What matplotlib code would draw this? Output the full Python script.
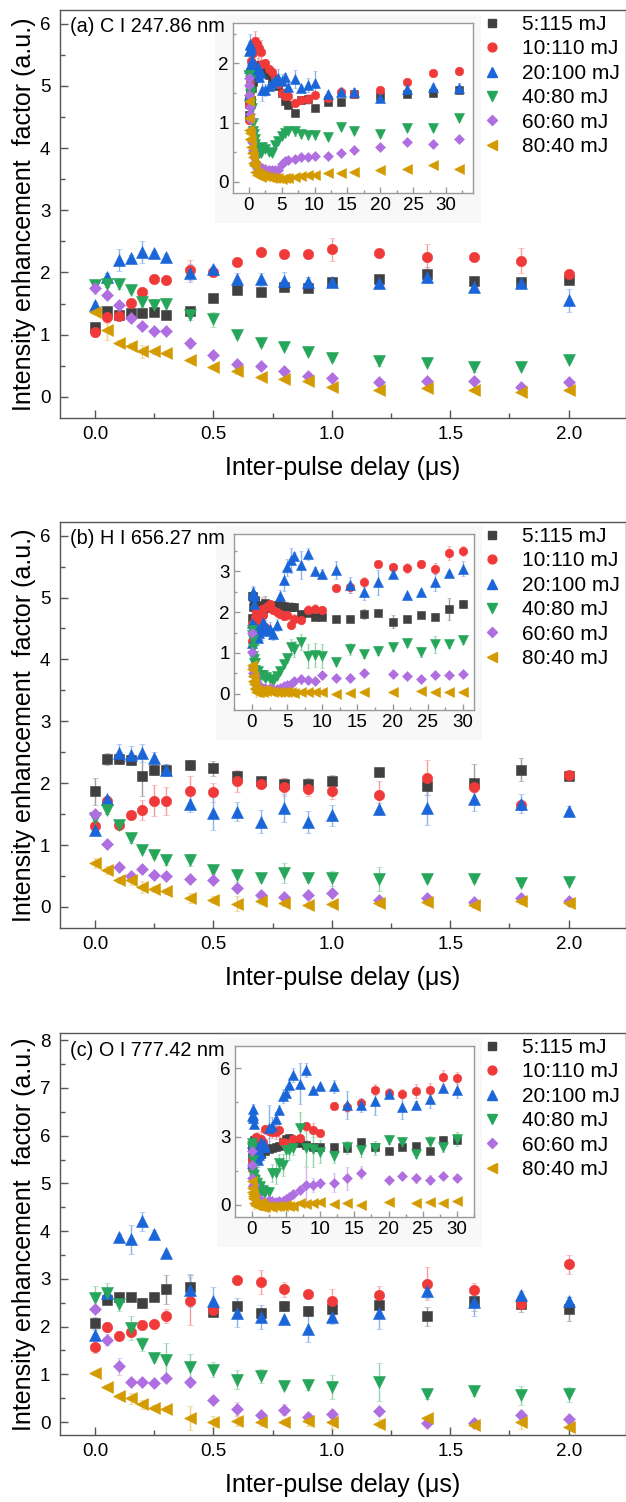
import numpy as np
import matplotlib
matplotlib.use("Agg")
import matplotlib.pyplot as plt
from matplotlib.colors import to_rgb
from matplotlib.lines import Line2D
from matplotlib.patches import Rectangle
from matplotlib.ticker import MultipleLocator, FormatStrFormatter

plt.rcParams['font.family'] = ['Liberation Sans', 'DejaVu Sans']

nan = np.nan

LABELS = ['5:115 mJ', '10:110 mJ', '20:100 mJ', '40:80 mJ', '60:60 mJ', '80:40 mJ']
COLORS = ['#404040', '#f03a3a', '#1a66d9', '#26a65b', '#b06fe0', '#d49b00']
MARKERS = ['s', 'o', '^', 'v', 'D', '<']
MSIZES = [6.5, 7.5, 8, 8, 6.3, 8]

# inter-pulse delay (us)
DELAY = [0, 0.05, 0.1, 0.15, 0.2, 0.25, 0.3, 0.4, 0.5, 0.6, 0.7, 0.8, 0.9, 1.0, 1.2, 1.4, 1.6, 1.8, 2.0]
DELAY_LONG_A = [2.5, 3, 3.5, 4, 4.5, 5, 5.5, 6, 7, 8, 9, 10, 12, 14, 16, 20, 24, 28, 32]
DELAY_LONG = [2.5, 3, 3.5, 4, 4.5, 5, 5.5, 6, 7, 8, 9, 10, 12, 14, 16, 18, 20, 22, 24, 26, 28, 30]

# ---- (a) C I 247.86 nm
A_BLK = [1.13, 1.38, 1.31, 1.35, 1.35, 1.37, 1.31, 1.38, 1.59, 1.72, 1.69, 1.77, 1.75, 1.85, 1.89, 1.97, 1.86, 1.84, 1.88]
A_RED = [1.04, 1.29, 1.30, 1.51, 1.68, 1.89, 1.88, 2.04, 2.01, 2.17, 2.33, 2.29, 2.29, 2.37, 2.32, 2.25, 2.25, 2.19, 1.98]
A_BLU = [1.47, 1.92, 2.20, 2.23, 2.33, 2.31, 2.25, 1.99, 2.05, 1.89, 1.89, 1.87, 1.84, 1.84, 1.83, 1.93, 1.77, 1.83, 1.55]
A_GRN = [1.80, 1.81, 1.81, 1.72, 1.53, 1.48, 1.49, 1.31, 1.25, 0.99, 0.86, 0.80, 0.72, 0.63, 0.57, 0.54, 0.48, 0.48, 0.59]
A_PUR = [1.75, 1.63, 1.47, 1.27, 1.14, 1.06, 1.06, 0.86, 0.67, 0.53, 0.50, 0.41, 0.33, 0.30, 0.24, 0.25, 0.26, 0.16, 0.24]
A_GLD = [1.37, 1.07, 0.87, 0.82, 0.73, 0.73, 0.70, 0.59, 0.48, 0.42, 0.32, 0.28, 0.26, 0.16, 0.11, 0.14, 0.11, 0.08, 0.11]
A_BLK_E = [0.06, 0.05, 0.05, 0.05, 0.04, 0.05, 0.06, 0.05, 0.07, 0.06, 0.05, 0.06, 0.07, 0.04, 0.07, 0.12, 0.04, 0.06, 0.05]
A_RED_E = [0.07, 0.10, 0.06, 0.04, 0.06, 0.04, 0.04, 0.16, 0.06, 0.07, 0.04, 0.05, 0.05, 0.18, 0.06, 0.20, 0.04, 0.20, 0.06]
A_BLU_E = [0.05, 0.07, 0.18, 0.05, 0.17, 0.04, 0.04, 0.14, 0.06, 0.10, 0.10, 0.13, 0.08, 0.04, 0.10, 0.10, 0.06, 0.06, 0.18]
A_GRN_E = [0.08, 0.05, 0.08, 0.04, 0.08, 0.10, 0.10, 0.08, 0.12, 0.04, 0.04, 0.03, 0.03, 0.05, 0.08, 0.03, 0.08, 0.04, 0.03]
A_PUR_E = [0.10, 0.04, 0.04, 0.05, 0.04, 0.04, 0.03, 0.07, 0.04, 0.04, 0.04, 0.04, 0.04, 0.03, 0.05, 0.03, 0.04, 0.03, 0.03]
A_GLD_E = [0.04, 0.15, 0.04, 0.04, 0.10, 0.04, 0.03, 0.03, 0.03, 0.05, 0.03, 0.03, 0.03, 0.03, 0.03, 0.03, 0.03, 0.03, 0.03]
# inset, delays beyond 2 us
A_BLK_L = [1.85, 1.80, 1.72, 1.70, 1.62, 1.50, 1.36, 1.30, 1.16, 1.38, 1.40, 1.25, 1.34, 1.34, 1.48, 1.44, 1.48, 1.49, 1.55]
A_RED_L = [2.00, 1.90, 1.86, 1.75, 1.65, 1.50, 1.45, 1.44, 1.33, 1.38, 1.40, 1.47, 1.41, 1.52, 1.48, 1.55, 1.68, 1.83, 1.87]
A_BLU_L = [1.55, 1.62, 1.66, 1.72, 1.75, 1.70, 1.76, 1.60, 1.74, 1.58, 1.63, 1.67, 1.48, 1.52, 1.52, 1.42, 1.56, 1.60, 1.59]
A_GRN_L = [0.55, 0.50, 0.48, 0.62, 0.68, 0.78, 0.82, 0.85, 0.85, 0.80, 0.79, 0.79, 0.76, 0.93, 0.86, 0.80, 0.91, 0.90, 1.07]
A_PUR_L = [0.22, 0.20, 0.19, 0.20, 0.20, 0.30, 0.35, 0.37, 0.38, 0.42, 0.42, 0.43, 0.44, 0.48, 0.53, 0.59, 0.67, 0.64, 0.73]
A_GLD_L = [0.10, 0.08, 0.07, 0.06, 0.06, 0.05, 0.06, 0.07, 0.08, 0.09, 0.11, 0.12, 0.14, 0.15, 0.17, 0.20, 0.22, 0.29, 0.22]
A_BLK_LE = [0.06, 0.05, 0.05, 0.06, 0.05, 0.06, 0.05, 0.06, 0.04, 0.06, 0.06, 0.04, 0.05, 0.06, 0.05, 0.04, 0.05, 0.04, 0.06]
A_RED_LE = [0.08, 0.06, 0.06, 0.06, 0.05, 0.06, 0.08, 0.06, 0.04, 0.06, 0.08, 0.05, 0.05, 0.08, 0.05, 0.04, 0.05, 0.04, 0.06]
A_BLU_LE = [0.10, 0.08, 0.10, 0.12, 0.15, 0.12, 0.08, 0.06, 0.15, 0.06, 0.12, 0.20, 0.06, 0.06, 0.06, 0.04, 0.06, 0.05, 0.08]
A_GRN_LE = [0.05, 0.05, 0.05, 0.05, 0.05, 0.06, 0.06, 0.05, 0.08, 0.06, 0.06, 0.06, 0.06, 0.05, 0.05, 0.04, 0.05, 0.04, 0.05]
A_PUR_LE = [0.03, 0.03, 0.03, 0.03, 0.03, 0.04, 0.04, 0.04, 0.04, 0.05, 0.05, 0.05, 0.04, 0.04, 0.05, 0.04, 0.04, 0.04, 0.04]
A_GLD_LE = [0.03, 0.03, 0.03, 0.02, 0.02, 0.02, 0.02, 0.02, 0.02, 0.02, 0.03, 0.03, 0.03, 0.03, 0.03, 0.03, 0.03, 0.03, 0.03]

# ---- (b) H I 656.27 nm
B_BLK = [1.87, 2.39, 2.39, 2.37, 2.12, 2.22, 2.21, 2.29, 2.24, 2.12, 2.03, 1.98, 1.98, 2.04, 2.18, 1.96, 2.01, 2.22, 2.11]
B_RED = [1.30, 1.71, 1.33, 1.48, 1.57, 1.72, 1.71, 1.87, 1.85, 2.04, 1.98, 1.94, 1.90, 1.87, 1.81, 2.09, 1.94, 1.64, 2.14]
B_BLU = [1.25, 1.74, 2.48, 2.45, 2.49, 2.41, 2.21, 1.67, 1.52, 1.54, 1.38, 1.60, 1.37, 1.48, 1.58, 1.60, 1.75, 1.67, 1.55]
B_GRN = [1.43, 1.56, 1.33, 1.11, 0.92, 0.84, 0.76, 0.76, 0.59, 0.51, 0.46, 0.55, 0.46, 0.46, 0.45, 0.45, 0.45, 0.38, 0.41]
B_PUR = [1.50, 1.02, 0.65, 0.50, 0.61, 0.52, 0.50, 0.45, 0.44, 0.30, 0.20, 0.16, 0.20, 0.22, 0.12, 0.14, 0.08, 0.15, 0.10]
B_GLD = [0.71, 0.60, 0.44, 0.44, 0.32, 0.29, 0.25, 0.15, 0.12, 0.05, 0.10, 0.07, 0.03, 0.05, 0.07, 0.08, 0.03, 0.10, 0.07]
B_BLK_E = [0.22, 0.10, 0.08, 0.07, 0.33, 0.08, 0.10, 0.08, 0.12, 0.08, 0.06, 0.10, 0.10, 0.10, 0.05, 0.15, 0.30, 0.18, 0.05]
B_RED_E = [0.06, 0.06, 0.05, 0.04, 0.16, 0.25, 0.23, 0.25, 0.15, 0.18, 0.06, 0.15, 0.10, 0.12, 0.22, 0.28, 0.08, 0.08, 0.04]
B_BLU_E = [0.05, 0.06, 0.15, 0.15, 0.15, 0.10, 0.10, 0.14, 0.28, 0.15, 0.18, 0.23, 0.18, 0.17, 0.10, 0.28, 0.20, 0.15, 0.08]
B_GRN_E = [0.08, 0.05, 0.05, 0.07, 0.04, 0.05, 0.08, 0.10, 0.06, 0.10, 0.06, 0.16, 0.06, 0.12, 0.20, 0.05, 0.05, 0.04, 0.03]
B_PUR_E = [0.05, 0.05, 0.04, 0.04, 0.04, 0.04, 0.04, 0.05, 0.04, 0.04, 0.05, 0.04, 0.04, 0.05, 0.04, 0.04, 0.04, 0.05, 0.04]
B_GLD_E = [0.08, 0.06, 0.05, 0.08, 0.10, 0.05, 0.04, 0.08, 0.05, 0.12, 0.05, 0.05, 0.05, 0.05, 0.05, 0.05, 0.05, 0.05, 0.05]
B_BLK_L = [2.14, 2.15, 2.17, 2.17, 2.15, 2.14, 2.14, 2.12, 1.95, 1.98, 1.89, 1.89, 1.83, 1.83, 1.95, 1.98, 1.77, 1.83, 1.93, 1.89, 2.08, 2.20]
B_RED_L = [2.20, 2.05, 2.00, 1.95, 1.90, 1.92, 1.68, 1.83, 1.80, 2.06, 2.08, 2.06, 2.60, 2.62, 2.74, 3.18, 3.10, 3.08, 3.18, 3.07, 3.45, 3.50]
B_BLU_L = [1.60, 1.47, 1.68, 2.39, 2.78, 3.10, 3.27, 3.37, 3.16, 3.42, 3.00, 2.93, 3.03, 2.67, 2.50, 2.73, 2.93, 2.42, 2.50, 2.73, 2.96, 3.07]
B_GRN_L = [0.35, 0.30, 0.43, 0.56, 0.73, 0.87, 1.14, 1.10, 1.27, 0.93, 0.95, 0.93, 0.77, 1.10, 0.98, 1.06, 1.14, 1.25, 1.03, 1.21, 1.21, 1.31]
B_PUR_L = [0.15, 0.12, 0.12, 0.15, 0.18, 0.22, 0.25, 0.30, 0.35, 0.33, 0.31, 0.45, 0.39, 0.39, 0.52, nan, 0.48, 0.43, 0.35, 0.46, 0.46, 0.48]
B_GLD_L = [0.07, 0.05, 0.05, 0.04, 0.03, 0.03, 0.03, 0.02, 0.04, 0.05, 0.05, 0.03, 0.00, 0.02, 0.05, nan, 0.03, nan, 0.07, 0.04, 0.04, 0.05]
B_BLK_LE = [0.10, 0.10, 0.12, 0.10, 0.10, 0.08, 0.10, 0.10, 0.10, 0.08, 0.08, 0.08, 0.06, 0.06, 0.12, 0.05, 0.15, 0.08, 0.06, 0.08, 0.28, 0.10]
B_RED_LE = [0.10, 0.10, 0.12, 0.10, 0.10, 0.10, 0.10, 0.12, 0.10, 0.12, 0.12, 0.10, 0.06, 0.15, 0.12, 0.06, 0.08, 0.12, 0.10, 0.14, 0.18, 0.12]
B_BLU_LE = [0.15, 0.15, 0.15, 0.15, 0.25, 0.20, 0.30, 0.10, 0.35, 0.15, 0.10, 0.12, 0.22, 0.20, 0.20, 0.30, 0.10, 0.06, 0.08, 0.20, 0.05, 0.18]
B_GRN_LE = [0.05, 0.05, 0.06, 0.08, 0.10, 0.12, 0.20, 0.20, 0.20, 0.30, 0.30, 0.30, 0.10, 0.15, 0.10, 0.10, 0.08, 0.10, 0.12, 0.20, 0.08, 0.10]
B_PUR_LE = [0.04, 0.04, 0.04, 0.04, 0.05, 0.05, 0.06, 0.06, 0.10, 0.08, 0.08, 0.08, 0.08, 0.10, 0.08, 0.04, 0.04, 0.04, 0.05, 0.04, 0.04, 0.04]
B_GLD_LE = [0.04, 0.04, 0.04, 0.03, 0.03, 0.03, 0.03, 0.03, 0.03, 0.03, 0.03, 0.03, 0.03, 0.03, 0.03, 0.03, 0.03, 0.03, 0.03, 0.03, 0.03, 0.03]

# ---- (c) O I 777.42 nm
C_BLK = [2.08, 2.55, 2.61, 2.62, 2.50, 2.62, 2.78, 2.83, 2.30, 2.43, 2.29, 2.43, 2.33, 2.36, 2.46, 2.22, 2.53, 2.47, 2.36]
C_RED = [1.57, 1.99, 1.81, 1.89, 2.03, 2.06, 2.22, 2.54, 2.34, 2.98, 2.93, 2.78, 2.69, 2.53, 2.66, 2.90, 2.76, 2.48, 3.31]
C_BLU = [1.83, 2.71, 3.88, 3.83, 4.21, 3.93, 3.55, 2.76, 2.53, 2.29, 2.20, 2.15, 1.96, 2.20, 2.29, 2.74, 2.52, 2.67, 2.53]
C_GRN = [2.60, 2.71, 2.48, 1.97, 1.64, 1.34, 1.31, 1.15, 1.10, 0.89, 0.96, 0.76, 0.77, 0.73, 0.84, 0.58, 0.65, 0.56, 0.58]
C_PUR = [2.36, 1.73, 1.17, 0.83, 0.85, 0.82, 0.93, 0.83, 0.46, 0.28, 0.15, 0.26, 0.10, 0.17, 0.24, -0.01, -0.01, 0.14, 0.07]
C_GLD = [1.03, 0.73, 0.55, 0.50, 0.37, 0.30, 0.28, 0.09, 0.01, 0.03, 0.01, 0.01, 0.02, 0.00, -0.03, 0.08, -0.07, 0.01, -0.10]
C_BLK_E = [0.12, 0.07, 0.09, 0.06, 0.10, 0.04, 0.30, 0.25, 0.08, 0.08, 0.10, 0.10, 0.10, 0.12, 0.10, 0.20, 0.20, 0.17, 0.25]
C_RED_E = [0.12, 0.10, 0.10, 0.06, 0.05, 0.06, 0.15, 0.50, 0.05, 0.05, 0.25, 0.15, 0.08, 0.25, 0.20, 0.35, 0.15, 0.10, 0.20]
C_BLU_E = [0.10, 0.08, 0.05, 0.30, 0.20, 0.10, 0.05, 0.35, 0.30, 0.30, 0.25, 0.05, 0.28, 0.15, 0.35, 0.15, 0.30, 0.08, 0.10]
C_GRN_E = [0.25, 0.20, 0.15, 0.25, 0.15, 0.08, 0.35, 0.28, 0.15, 0.20, 0.15, 0.05, 0.10, 0.25, 0.40, 0.10, 0.10, 0.20, 0.15]
C_PUR_E = [0.06, 0.12, 0.18, 0.05, 0.05, 0.05, 0.05, 0.08, 0.05, 0.15, 0.05, 0.12, 0.10, 0.08, 0.05, 0.05, 0.08, 0.12, 0.05]
C_GLD_E = [0.05, 0.03, 0.03, 0.12, 0.10, 0.05, 0.05, 0.25, 0.12, 0.12, 0.10, 0.05, 0.10, 0.15, 0.10, 0.05, 0.05, 0.15, 0.05]
C_BLK_L = [2.45, 2.50, 2.52, 2.60, 2.75, 2.90, 2.95, 2.75, 2.71, 2.64, 2.53, 2.56, 2.53, 2.49, 2.75, 2.56, 2.37, 2.56, 2.59, 2.37, 2.83, 2.83]
C_RED_L = [3.25, 3.22, 3.20, 3.30, 2.78, 2.70, 2.68, 2.88, 2.93, 3.44, 3.30, 3.15, 4.35, 4.29, 4.49, 5.05, 4.93, 4.88, 5.00, 5.05, 5.61, 5.56]
C_BLU_L = [3.37, 3.44, 3.78, 4.17, 4.79, 4.93, 5.27, 5.70, 5.31, 5.93, 5.05, 5.20, 5.20, 4.39, 4.39, 4.54, 4.88, 4.29, 4.39, 4.64, 5.12, 5.02]
C_GRN_L = [0.55, 1.39, 1.40, 1.83, 1.75, 2.42, 2.39, 2.49, 3.37, 2.49, 2.45, 2.34, 2.15, 2.52, 2.42, 2.49, 2.86, 2.78, 2.24, 2.74, 2.53, 2.88]
C_PUR_L = [0.20, 0.15, 0.12, 0.15, 0.15, 0.25, 0.35, 0.50, 0.66, 0.88, 0.88, 0.95, 0.98, 1.17, 1.42, nan, 1.10, 1.29, 1.17, 1.10, 1.27, 1.17]
C_GLD_L = [-0.05, -0.08, -0.05, -0.03, -0.03, -0.02, -0.03, -0.04, 0.07, 0.03, 0.07, 0.12, 0.04, 0.07, 0.00, nan, 0.12, nan, 0.07, 0.12, 0.10, 0.15]
C_BLK_LE = [0.15, 0.15, 0.15, 0.12, 0.12, 0.15, 0.15, 0.12, 0.15, 0.20, 0.10, 0.10, 0.10, 0.12, 0.15, 0.10, 0.10, 0.12, 0.10, 0.10, 0.20, 0.15]
C_RED_LE = [0.30, 0.30, 0.30, 0.30, 0.20, 0.20, 0.20, 0.20, 0.15, 0.20, 0.30, 0.10, 0.15, 0.20, 0.20, 0.25, 0.20, 0.20, 0.30, 0.30, 0.30, 0.25]
C_BLU_LE = [1.00, 0.40, 0.30, 0.20, 0.30, 0.30, 0.30, 0.30, 0.90, 0.30, 0.10, 0.10, 0.30, 0.60, 0.30, 0.60, 0.20, 0.50, 0.15, 0.40, 0.10, 0.35]
C_GRN_LE = [0.20, 0.40, 0.50, 0.40, 0.50, 0.50, 0.40, 0.30, 0.70, 0.80, 0.80, 0.50, 0.30, 0.30, 0.30, 0.30, 0.20, 0.20, 0.20, 0.30, 0.20, 0.30]
C_PUR_LE = [0.10, 0.10, 0.10, 0.10, 0.10, 0.10, 0.10, 0.10, 0.15, 0.80, 0.30, 0.20, 0.40, 0.50, 0.30, 0.10, 0.10, 0.15, 0.20, 0.20, 0.10, 0.10]
C_GLD_LE = [0.10, 0.10, 0.08, 0.08, 0.08, 0.08, 0.08, 0.08, 0.06, 0.05, 0.05, 0.06, 0.05, 0.05, 0.05, 0.05, 0.05, 0.05, 0.05, 0.05, 0.05, 0.05]

W, H = 626.0, 1502.0
fig = plt.figure(figsize=(W / 100, H / 100), dpi=100)


def px_rect(x0, y0, x1, y1):
    # pixel box (top-left origin) -> figure fraction rect
    return [x0 / W, 1 - y1 / H, (x1 - x0) / W, (y1 - y0) / H]


def light(c, a=0.5):
    r, g, b = to_rgb(c)
    return (r + (1 - r) * (1 - a), g + (1 - g) * (1 - a), b + (1 - b) * (1 - a))


def draw_series(ax, x, ys, errs, scale, cap):
    for y, e, c, m, s in zip(ys, errs, COLORS, MARKERS, MSIZES):
        ax.errorbar(x, y, yerr=e, fmt=m, ms=s * scale, color=c, mec=c, mew=0.4,
                    ecolor=light(c), elinewidth=1.0, capsize=cap, capthick=1.0)


def style(ax, spine_col, maj, minl, lsize, pad):
    for sp in ax.spines.values():
        sp.set_color(spine_col)
        sp.set_linewidth(1.0)
    ax.tick_params(which='both', direction='in', colors=spine_col, labelcolor='black',
                   labelsize=lsize, pad=pad, width=1.0)
    ax.tick_params(which='major', length=maj)
    ax.tick_params(which='minor', length=minl)


panels = [
    dict(tag='(a) C I 247.86 nm', box=(60, 10, 625.5, 418), ylim=(-0.34, 6.22), ystep=1,
         main=[A_BLK, A_RED, A_BLU, A_GRN, A_PUR, A_GLD],
         err=[A_BLK_E, A_RED_E, A_BLU_E, A_GRN_E, A_PUR_E, A_GLD_E],
         ibox=(233, 23, 473, 193), ixlim=(-2.4, 34.1), iylim=(-0.19, 2.68), iystep=1,
         lx=DELAY_LONG_A,
         long=[A_BLK_L, A_RED_L, A_BLU_L, A_GRN_L, A_PUR_L, A_GLD_L],
         lerr=[A_BLK_LE, A_RED_LE, A_BLU_LE, A_GRN_LE, A_PUR_LE, A_GLD_LE]),
    dict(tag='(b) H I 656.27 nm', box=(60, 522, 625.5, 928), ylim=(-0.34, 6.22), ystep=1,
         main=[B_BLK, B_RED, B_BLU, B_GRN, B_PUR, B_GLD],
         err=[B_BLK_E, B_RED_E, B_BLU_E, B_GRN_E, B_PUR_E, B_GLD_E],
         ibox=(234, 534, 474, 710), ixlim=(-2.56, 31.6), iylim=(-0.4, 3.92), iystep=1,
         lx=DELAY_LONG,
         long=[B_BLK_L, B_RED_L, B_BLU_L, B_GRN_L, B_PUR_L, B_GLD_L],
         lerr=[B_BLK_LE, B_RED_LE, B_BLU_LE, B_GRN_LE, B_PUR_LE, B_GLD_LE]),
    dict(tag='(c) O I 777.42 nm', box=(60, 1033, 625.5, 1435), ylim=(-0.27, 8.15), ystep=1,
         main=[C_BLK, C_RED, C_BLU, C_GRN, C_PUR, C_GLD],
         err=[C_BLK_E, C_RED_E, C_BLU_E, C_GRN_E, C_PUR_E, C_GLD_E],
         ibox=(235, 1046, 474, 1217), ixlim=(-2.45, 32.5), iylim=(-0.53, 6.97), iystep=3,
         lx=DELAY_LONG,
         long=[C_BLK_L, C_RED_L, C_BLU_L, C_GRN_L, C_PUR_L, C_GLD_L],
         lerr=[C_BLK_LE, C_RED_LE, C_BLU_LE, C_GRN_LE, C_PUR_LE, C_GLD_LE]),
]

for p in panels:
    x0, y0, x1, y1 = p['box']
    ax = fig.add_axes(px_rect(*p['box']), zorder=0)
    draw_series(ax, DELAY, p['main'], p['err'], 1.0, 2.5)
    ax.set_xlim(-0.148, 2.24)
    ax.set_ylim(*p['ylim'])
    ax.xaxis.set_major_locator(MultipleLocator(0.5))
    ax.xaxis.set_minor_locator(MultipleLocator(0.25))
    ax.yaxis.set_major_locator(MultipleLocator(p['ystep']))
    ax.yaxis.set_minor_locator(MultipleLocator(p['ystep'] / 2))
    ax.xaxis.set_major_formatter(FormatStrFormatter('%.1f'))
    style(ax, '#555555', 6, 3.5, 13.5, 6)
    ax.tick_params(axis='y', pad=7)
    ax.set_xlabel('Inter-pulse delay (\u03bcs)', fontsize=18, labelpad=9)
    ax.set_ylabel('Intensity enhancement  factor (a.u.)', fontsize=18, labelpad=3)
    # panel tag drawn on the figure so the inset backdrop never hides it
    fig.text(70 / W, 1 - (y0 + 17) / H, p['tag'], fontsize=14.3, va='center',
             ha='left', zorder=4)

    # faint backdrop behind the inset picture
    ix0, iy0, ix1, iy1 = p['ibox']
    fig.add_artist(Rectangle((ix0 - 18) / W * np.array([1, 0]) + np.array([0, 1 - (iy1 + 30) / H]),
                             (ix1 - ix0 + 26) / W, (iy1 - iy0 + 38) / H,
                             transform=fig.transFigure, facecolor='#f8f8f8',
                             edgecolor='none', zorder=1))

    ins = fig.add_axes(px_rect(*p['ibox']), zorder=3)
    ins.set_facecolor('white')
    draw_series(ins, DELAY + p['lx'],
                [m + l for m, l in zip(p['main'], p['long'])],
                [m + l for m, l in zip(p['err'], p['lerr'])], 0.82, 1.6)
    ins.set_xlim(*p['ixlim'])
    ins.set_ylim(*p['iylim'])
    ins.xaxis.set_major_locator(MultipleLocator(5))
    ins.xaxis.set_minor_locator(MultipleLocator(2.5))
    ins.yaxis.set_major_locator(MultipleLocator(p['iystep']))
    ins.yaxis.set_minor_locator(MultipleLocator(p['iystep'] / 2))
    style(ins, '#999999', 4, 2.5, 13.5, 3)

    # legend (markers only, no frame) right of the inset
    handles = [Line2D([], [], ls='none', marker=m, ms=s * 0.85, color=c, mec=c)
               for c, m, s in zip(COLORS, MARKERS, MSIZES)]
    ax.legend(handles, LABELS, loc='upper left', frameon=False, fontsize=15,
              bbox_to_anchor=(484 / W, 1 - (y0 + 5) / H), bbox_transform=fig.transFigure,
              borderpad=0, borderaxespad=0, handlelength=0.8, handletextpad=1.0,
              labelspacing=0.26)

fig.savefig('out.png', dpi=100)
